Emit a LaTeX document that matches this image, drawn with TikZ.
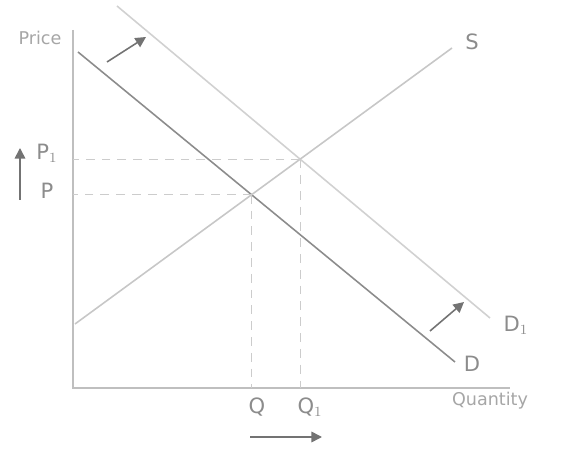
\documentclass[tikz,border=0pt]{standalone}
\usepackage{fontspec}
\setmainfont{DejaVu Sans}
\usetikzlibrary{intersections,arrows.meta,calc}
\begin{document}
\begin{tikzpicture}[x=0.02cm,y=-0.02cm,
  axisline/.style={draw=black!25,line width=0.8pt},
  demand/.style={draw=black!45,line width=0.9pt},
  demandb/.style={draw=black!18,line width=0.9pt},
  supply/.style={draw=black!22,line width=0.9pt},
  guide/.style={draw=black!20,dashed,dash pattern=on 5pt off 4pt,line width=0.7pt},
  shiftarrow/.style={draw=black!55,line width=0.9pt,-{Triangle[length=6pt,width=6pt]}},
  lbl/.style={text=black!45,font=\large,inner sep=1pt},
  slbl/.style={text=black!35,font=\normalsize,inner sep=1pt}]
\useasboundingbox (0,0) rectangle (569,449);
% axes
\coordinate (O) at (73,388);
\coordinate (ytop) at (73,30);
\coordinate (xend) at (510,388);
\draw[axisline] (ytop) -- (O) -- (xend);
% curves
\coordinate (d0) at (78,52);
\coordinate (d1) at (455,362);
\coordinate (dd0) at (117,6);
\coordinate (dd1) at (490,318);
\coordinate (s0) at (75,324);
\coordinate (s1) at (452,48);
\path[demand,name path=D] (d0) -- (d1);
\path[demandb,name path=D1] (dd0) -- (dd1);
\path[supply,name path=S] (s0) -- (s1);
\path[name intersections={of=D and S,by=E}];
\path[name intersections={of=D1 and S,by=E1}];
% guides
\draw[guide] (E) -- (E -| O);
\draw[guide] (E) -- (E |- O);
\draw[guide] (E1) -- (E1 -| O);
\draw[guide] (E1) -- (E1 |- O);
% labels
\node[slbl] (price) at (40,38) {Price};
\node[lbl] (p1) at (47,153) {P$_1$};
\node[lbl] (p) at (47,191) {P};
\node[lbl] (q) at (257,407) {Q};
\node[lbl] (q1) at (310,407) {Q$_1$};
\node[slbl] (qty) at (490,401) {Quantity};
\node[lbl] (slab) at (472,42) {S};
\node[lbl] (dlab) at (472,364) {D};
\node[lbl] (d1lab) at (516,325) {D$_1$};
% arrows
\coordinate (a1s) at (20,200);
\coordinate (a1e) at (20,148);
\draw[shiftarrow] (a1s) -- (a1e);
\coordinate (a2s) at (250,437);
\coordinate (a2e) at (322,437);
\draw[shiftarrow] (a2s) -- (a2e);
\coordinate (a3s) at (107,62);
\coordinate (a3e) at (146,37);
\draw[shiftarrow] (a3s) -- (a3e);
\coordinate (a4s) at (430,331);
\coordinate (a4e) at (464,302);
\draw[shiftarrow] (a4s) -- (a4e);
\end{tikzpicture}
\end{document}
